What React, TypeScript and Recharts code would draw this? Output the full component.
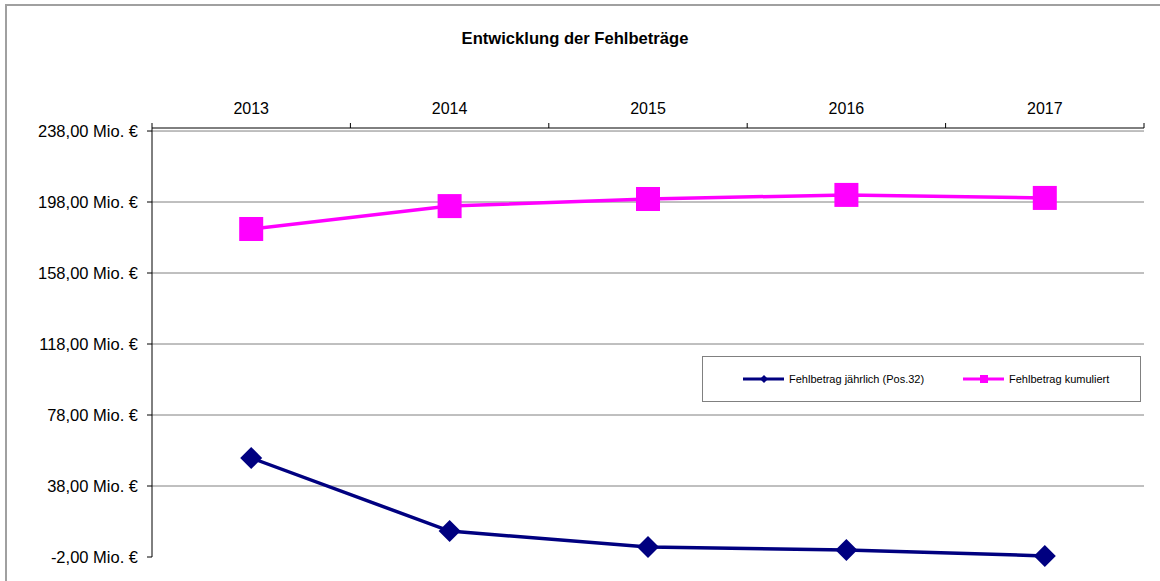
import React from 'react';
import {
  LineChart,
  Line,
  XAxis,
  YAxis,
  CartesianGrid,
} from 'recharts';

const YEARS = ['2013', '2014', '2015', '2016', '2017'];
const ANNUAL = [53.8, 12.6, 3.6, 2.0, -1.4]; // Fehlbetrag jährlich (Pos.32)
const CUMULATIVE = [182.8, 195.7, 199.7, 202.0, 200.3]; // Fehlbetrag kumuliert
const Y_TICKS = [-2, 38, 78, 118, 158, 198, 238];

const BLUE = '#000080';
const PINK = '#FF00FF';
const FONT = 'Arial, "Liberation Sans", sans-serif';

const WIDTH = 1160;
const HEIGHT = 581;
const PLOT_LEFT = 152;
const PLOT_RIGHT = 1144;
const PLOT_TOP = 128;
const PLOT_BOTTOM = 557;
const Y_AXIS_W = 140;
const X_AXIS_H = 40;
const BAND = (PLOT_RIGHT - PLOT_LEFT) / YEARS.length;

const chartData = YEARS.map((year, i) => ({
  year,
  annual: ANNUAL[i],
  cumulative: CUMULATIVE[i],
}));

const fmt = (v: number) =>
  `${v.toFixed(2).replace('.', ',')} Mio. €`;

const Diamond = (props: any) => {
  const { cx, cy } = props;
  if (cx == null || cy == null) return null;
  const r = 11;
  return (
    <path
      d={`M${cx},${cy - r} L${cx + r},${cy} L${cx},${cy + r} L${cx - r},${cy} Z`}
      fill={BLUE}
    />
  );
};

const Square = (props: any) => {
  const { cx, cy } = props;
  if (cx == null || cy == null) return null;
  return <rect x={cx - 12} y={cy - 12} width={24} height={24} fill={PINK} />;
};

// top category axis: labels in the band centre, tick marks on the band edges
const TopTick = (props: any) => {
  const { x, index, payload } = props;
  const left = x - BAND / 2;
  return (
    <g>
      <line x1={left} y1={PLOT_TOP} x2={left} y2={PLOT_TOP - 5} stroke="#000" />
      {index === YEARS.length - 1 && (
        <line x1={left + BAND} y1={PLOT_TOP} x2={left + BAND} y2={PLOT_TOP - 5} stroke="#000" />
      )}
      <text x={x} y={114} textAnchor="middle" fontSize={16} fontFamily={FONT} fill="#000">
        {payload.value}
      </text>
    </g>
  );
};

const LegendBox = () => (
  <div
    style={{
      position: 'absolute',
      left: 702,
      top: 356,
      width: 437,
      height: 44,
      border: '1px solid #808080',
      background: '#fff',
    }}
  >
    <svg width={437} height={44} style={{ position: 'absolute', left: 0, top: 0 }}>
      <line x1={40} y1={22} x2={81} y2={22} stroke={BLUE} strokeWidth={3} />
      <path d="M61,18 L65,22 L61,26 L57,22 Z" fill={BLUE} />
      <text x={86} y={26} fontSize={11} fontFamily={FONT}>Fehlbetrag jährlich (Pos.32)</text>
      <line x1={260} y1={22} x2={301} y2={22} stroke={PINK} strokeWidth={3} />
      <rect x={277} y={18} width={8} height={8} fill={PINK} />
      <text x={306} y={26} fontSize={11} fontFamily={FONT}>Fehlbetrag kumuliert</text>
    </svg>
  </div>
);

export default function App() {
  return (
    <div
      style={{
        position: 'absolute',
        left: 0,
        top: 0,
        width: WIDTH,
        height: HEIGHT,
        overflow: 'hidden',
        background: '#fff',
      }}
    >
      <div
        style={{
          position: 'absolute',
          left: 5,
          top: 4,
          width: WIDTH + 20,
          height: HEIGHT + 20,
          border: '2px solid #a0a0a0',
        }}
      />
      <div
        style={{
          position: 'absolute',
          left: 0,
          width: WIDTH - 10,
          top: 29,
          textAlign: 'center',
          fontFamily: FONT,
          fontSize: 16.6,
          fontWeight: 'bold',
        }}
      >
        Entwicklung der Fehlbeträge
      </div>
      <LineChart
        width={WIDTH}
        height={HEIGHT}
        data={chartData}
        margin={{
          top: PLOT_TOP - X_AXIS_H,
          right: WIDTH - PLOT_RIGHT,
          bottom: HEIGHT - PLOT_BOTTOM,
          left: PLOT_LEFT - Y_AXIS_W,
        }}
        style={{ position: 'absolute', left: 0, top: 0 }}
      >
        <CartesianGrid
          vertical={false}
          stroke="#808080"
          horizontalValues={Y_TICKS.filter((t) => t !== -2)}
        />
        <XAxis
          dataKey="year"
          orientation="top"
          height={X_AXIS_H}
          stroke="#000"
          tickLine={false}
          tick={<TopTick />}
          interval={0}
          padding={{ left: BAND / 2, right: BAND / 2 }}
        />
        <YAxis
          width={Y_AXIS_W}
          domain={[-2, 239.7]}
          ticks={Y_TICKS}
          stroke="#000"
          tickSize={5}
          tickMargin={9}
          tickFormatter={fmt}
          tick={{ fontSize: 16.5, fontFamily: FONT, fill: '#000' }}
        />
        <Line
          dataKey="annual"
          stroke={BLUE}
          strokeWidth={3.5}
          dot={<Diamond />}
          activeDot={false}
          isAnimationActive={false}
        />
        <Line
          dataKey="cumulative"
          stroke={PINK}
          strokeWidth={3.5}
          dot={<Square />}
          activeDot={false}
          isAnimationActive={false}
        />
      </LineChart>
      <LegendBox />
    </div>
  );
}
